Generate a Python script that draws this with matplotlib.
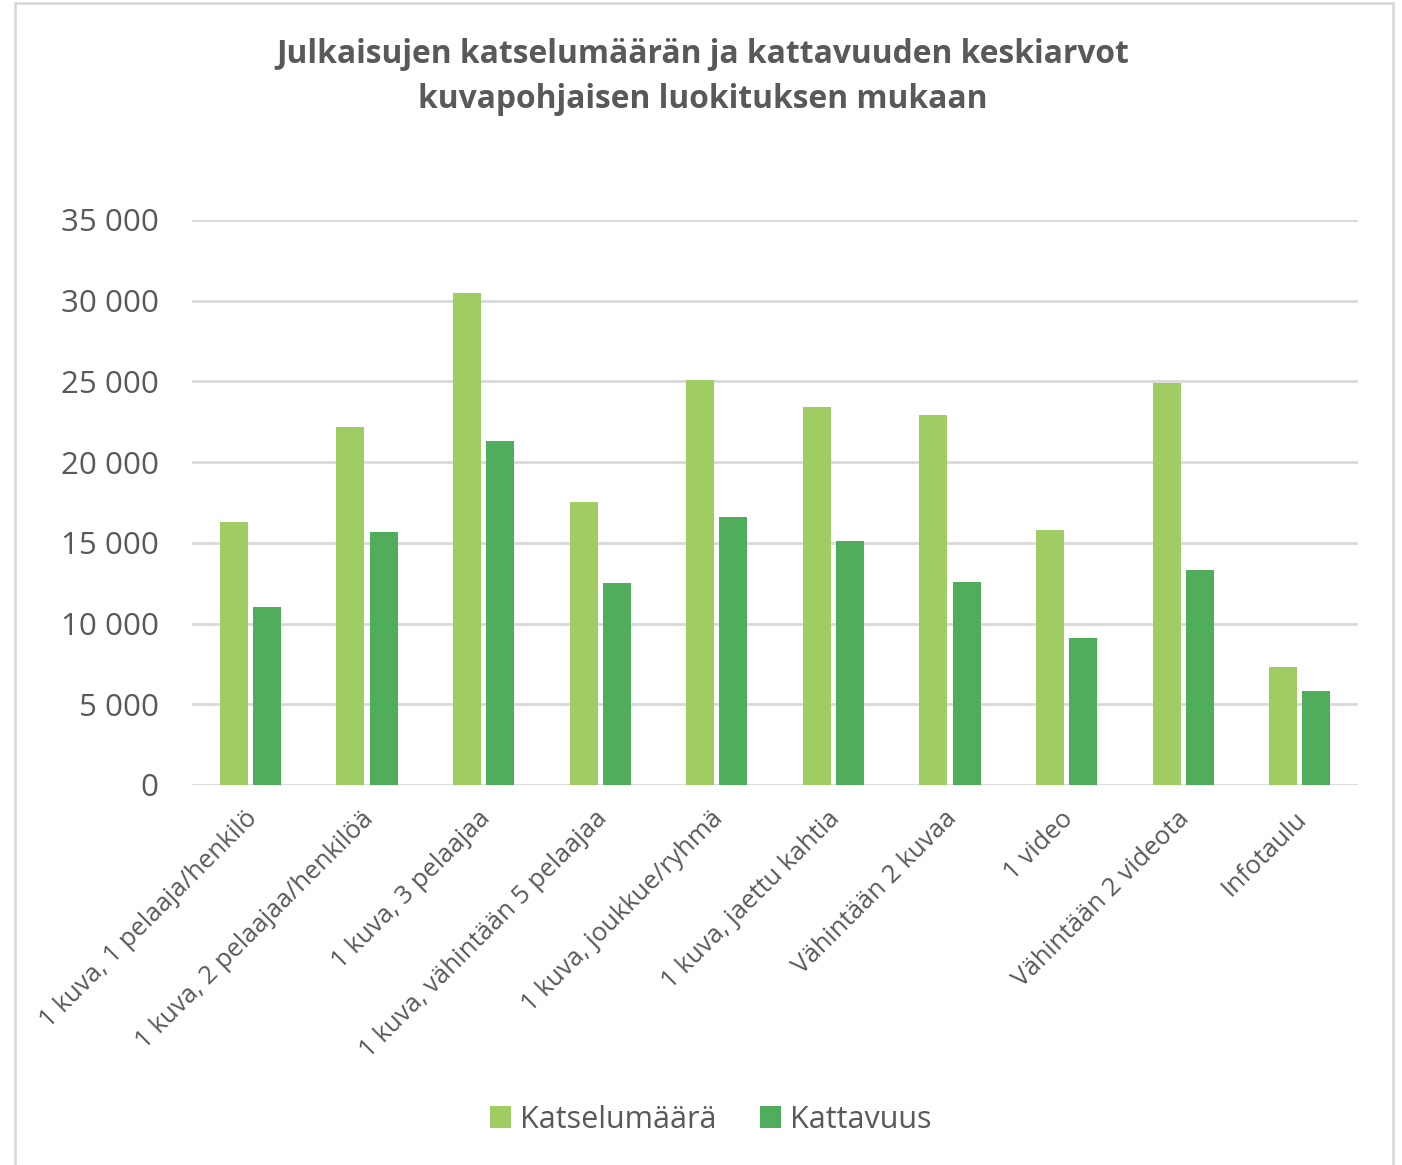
import matplotlib.pyplot as plt
import matplotlib.ticker as mticker
import matplotlib.transforms as mtransforms
from matplotlib.patches import Rectangle
import numpy as np

plt.rcParams['font.family'] = ['Open Sans', 'DejaVu Sans']

# Categories and series (mean views / reach)
categories = [
    '1 kuva, 1 pelaaja/henkilö',
    '1 kuva, 2 pelaajaa/henkilöä',
    '1 kuva, 3 pelaajaa',
    '1 kuva, vähintään 5 pelaajaa',
    '1 kuva, joukkue/ryhmä',
    '1 kuva, jaettu kahtia',
    'Vähintään 2 kuvaa',
    '1 video',
    'Vähintään 2 videota',
    'Infotaulu',
]
katselumaara = [16300, 22200, 30500, 17500, 25100, 23400, 22900, 15800, 24900, 7300]
kattavuus = [11000, 15700, 21300, 12500, 16600, 15100, 12600, 9100, 13300, 5800]

grey = '#595959'
light_green = '#9FCD63'
dark_green = '#4FAD5B'

fig = plt.figure(figsize=(14.02, 11.65), dpi=100)
ax = fig.add_axes([0.137, 0.3262, 0.8317, 0.485])

x = np.arange(len(categories))
w = 0.24
off = 0.142
ax.bar(x - off, katselumaara, w, color=light_green, label='Katselumäärä', zorder=3)
ax.bar(x + off, kattavuus, w, color=dark_green, label='Kattavuus', zorder=3)

ax.set_xlim(-0.5, len(categories) - 0.5)
ax.set_ylim(0, 35000)
ax.set_yticks(np.arange(0, 35001, 5000))
ax.yaxis.set_major_formatter(mticker.FuncFormatter(lambda v, p: f'{int(v):,}'.replace(',', ' ')))
ax.grid(axis='y', color='#D9D9D9', linewidth=2, zorder=0)
ax.tick_params(axis='y', length=0, pad=24, labelsize=22.5, labelcolor=grey)
ax.tick_params(axis='x', length=0, pad=6, labelsize=18.5, labelcolor=grey)
ax.set_xticks(x)
ax.set_xticklabels(categories, rotation=45, ha='right', va='top', rotation_mode='anchor')
shift = mtransforms.ScaledTranslation(-6 / 100, -13 / 100, fig.dpi_scale_trans)
for lbl in ax.get_xticklabels():
    lbl.set_transform(lbl.get_transform() + shift)
for s in ax.spines.values():
    s.set_visible(False)

fig.text(0.5015, 0.934, 'Julkaisujen katselumäärän ja kattavuuden keskiarvot\nkuvapohjaisen luokituksen mukaan',
         ha='center', va='center', fontsize=22.9, fontweight='bold', color=grey, linespacing=1.47)

leg = fig.legend(loc='center', bbox_to_anchor=(0.507, 0.039), ncol=2, frameon=False,
                 fontsize=22, handlelength=0.7, handleheight=0.7, handletextpad=0.3,
                 columnspacing=1.4)
for t in leg.get_texts():
    t.set_color(grey)

fig.patches.append(Rectangle((0.0107, -0.01), 0.9829, 1.0074, transform=fig.transFigure,
                             fill=False, edgecolor='#D9D9D9', linewidth=2))

fig.savefig('out.png', dpi=100)
